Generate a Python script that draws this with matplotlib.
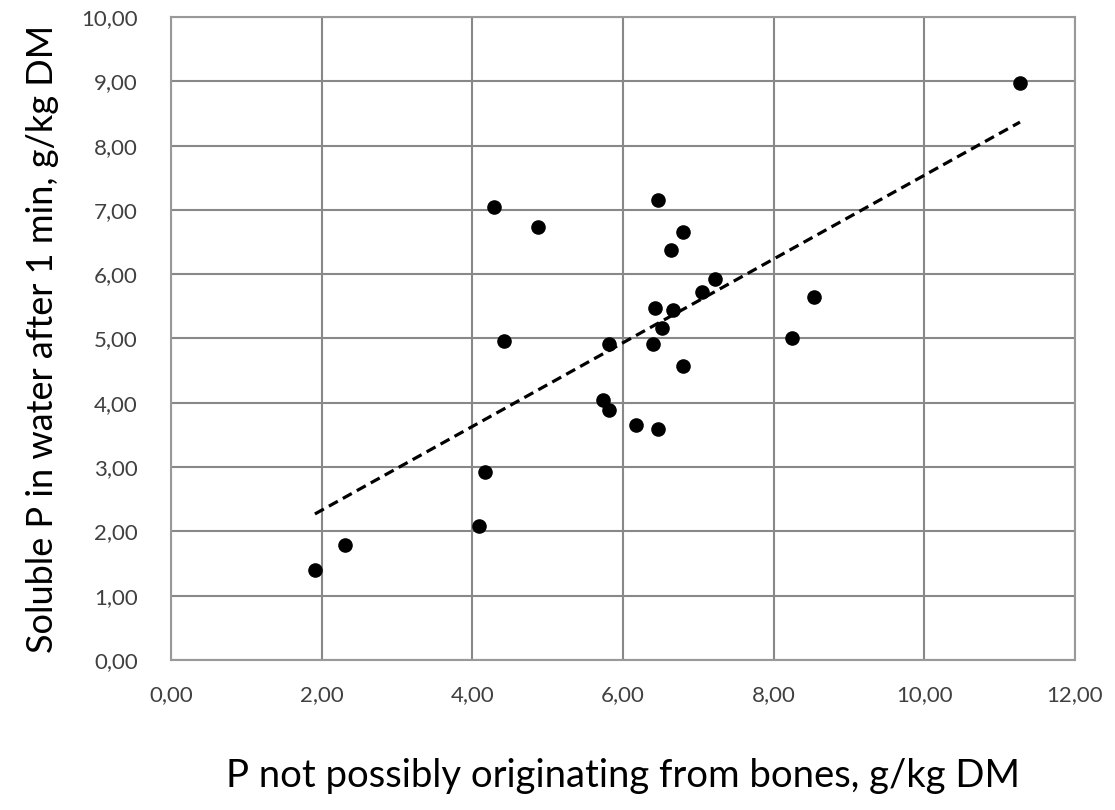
import numpy as np
import matplotlib.pyplot as plt

# P not possibly originating from bones, g/kg DM
p_not_bone = [1.91, 2.31, 4.09, 4.17, 4.29, 4.87, 4.42, 6.47, 6.80, 6.64, 7.22, 7.05,
              6.43, 6.66, 6.52, 5.81, 6.40, 6.80, 5.74, 5.81, 6.17, 6.46, 8.54, 8.25, 11.27]
# soluble P in water after 1 min, g/kg DM
p_soluble = [1.40, 1.79, 2.08, 2.93, 7.05, 6.74, 4.96, 7.15, 6.65, 6.38, 5.93, 5.72,
             5.48, 5.44, 5.17, 4.91, 4.91, 4.58, 4.04, 3.89, 3.65, 3.60, 5.64, 5.00, 8.98]

xticks = [0, 2, 4, 6, 8, 10, 12]
yticks = [0, 1, 2, 3, 4, 5, 6, 7, 8, 9, 10]

plt.rcParams['font.family'] = ['Lato', 'DejaVu Sans']

fig = plt.figure(figsize=(11.15, 8.1), dpi=100)
ax = fig.add_axes([0.1534, 0.1852, 0.8107, 0.7938])

x = np.array(p_not_bone)
y = np.array(p_soluble)
ax.scatter(x, y, s=90, color='black', zorder=3)

# linear trendline
k, b = np.polyfit(x, y, 1)
xl = np.array([x.min(), x.max()])
ax.plot(xl, k * xl + b, color='black', linestyle=(0, (3.2, 1.8)), linewidth=2.3, zorder=2)

ax.set_xlim(0, 12)
ax.set_ylim(0, 10)
ax.set_xticks(xticks)
ax.set_yticks(yticks)
ax.set_xticklabels([('%.2f' % v).replace('.', ',') for v in xticks])
ax.set_yticklabels([('%.2f' % v).replace('.', ',') for v in yticks])
ax.tick_params(length=0, labelsize=16, colors='#404040')
ax.tick_params(axis='x', pad=18)
ax.tick_params(axis='y', pad=24)
ax.grid(True, color='#888888', linewidth=1.5)
ax.set_axisbelow(True)
for s in ax.spines.values():
    s.set_color('#999999')
    s.set_linewidth(1.5)

ax.set_xlabel('P not possibly originating from bones, g/kg DM', fontsize=27.5, labelpad=38)
ax.set_ylabel('Soluble P in water after 1 min, g/kg DM', fontsize=26, labelpad=16)

fig.savefig('out.png', dpi=100)
